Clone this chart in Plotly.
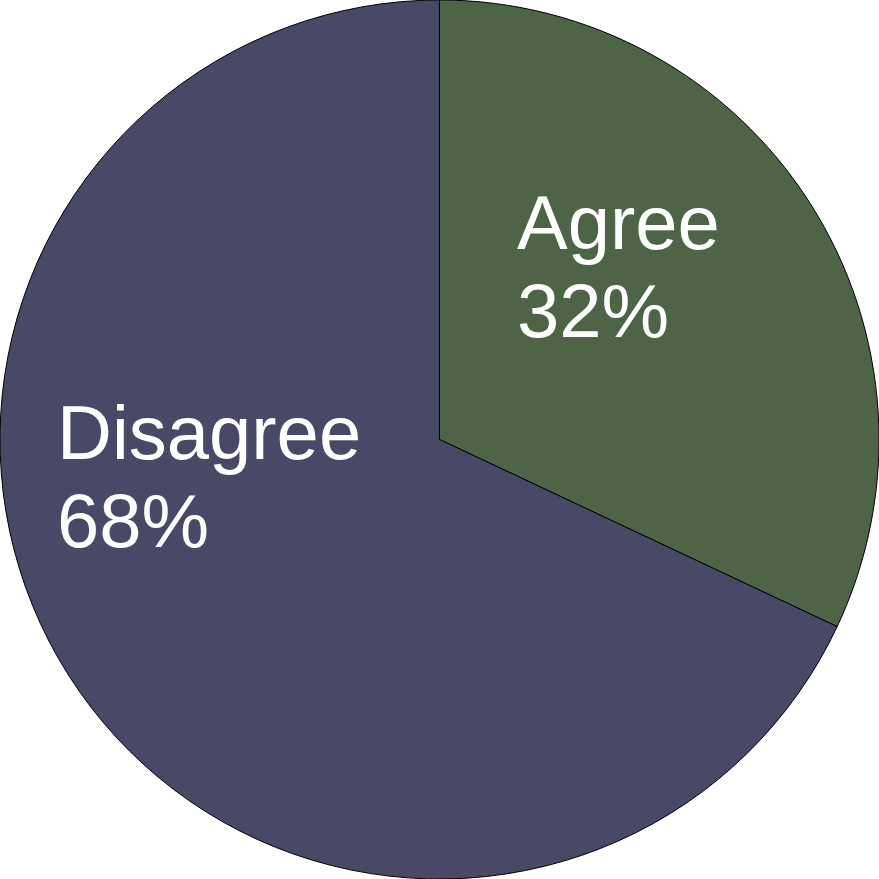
import plotly.graph_objects as go

labels = ["Agree", "Disagree"]
values = [32, 68]
colors = ["#4E6447", "#474966"]
# annotation anchor positions (paper coords) for each label block
label_x = [0.586, 0.063]
name_y = [0.747, 0.508]
pct_y = [0.647, 0.408]

fig = go.Figure(go.Pie(
    labels=labels,
    values=values,
    sort=False,
    direction="clockwise",
    rotation=0,
    marker=dict(colors=colors, line=dict(color="#000000", width=1)),
    textinfo="none",
    hoverinfo="label+percent",
    showlegend=False,
    domain=dict(x=[0, 1], y=[0, 1]),
))

font = dict(family="Liberation Sans, Arial, sans-serif", size=76, color="white")
for lab, v, x, y1, y2 in zip(labels, values, label_x, name_y, pct_y):
    fig.add_annotation(x=x, y=y1, xref="paper", yref="paper",
                       xanchor="left", yanchor="middle", text=lab,
                       showarrow=False, font=font)
    fig.add_annotation(x=x, y=y2, xref="paper", yref="paper",
                       xanchor="left", yanchor="middle", text=f"{v}%",
                       showarrow=False, font=font)

fig.update_layout(
    width=879, height=879,
    margin=dict(l=0, r=0, t=0, b=0),
    paper_bgcolor="white", plot_bgcolor="white",
)

fig.write_html("out.html", config={"displayModeBar": False},
               post_script="document.body.style.margin='0';document.body.style.overflow='hidden';")
